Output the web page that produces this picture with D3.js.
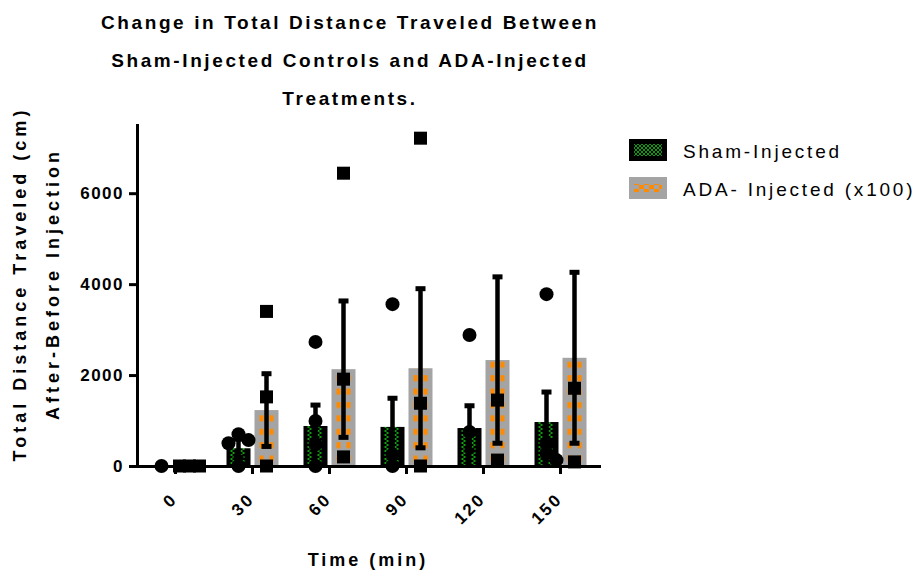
<!DOCTYPE html>
<html>
<head>
<meta charset="utf-8">
<script src="https://cdn.jsdelivr.net/npm/d3@7"></script>
<style>
  body { margin: 0; background: #fff; }
  text { font-family: "Liberation Sans", Arial, sans-serif; fill: #000; }
</style>
</head>
<body>
<svg id="chart" width="920" height="574"></svg>
<script>
// values
const times = ["0", "30", "60", "90", "120", "150"];
const series = ["sham", "ada"];
const shamMean = [0, 390, 880, 860, 835, 967];
const shamSD = [0, 200, 460, 630, 490, 660];
const adaMean = [0, 1230, 2130, 2150, 2330, 2380];
const adaSD = [0, 800, 1500, 1750, 1830, 1880];
const shamPoints = [[0], [700, 570, 500, 0], [2730, 990, 480, 0], [3560, 250, 0], [2880, 750], [3780, 500, 280, 130]];
const adaPoints = [[0, 0, 0], [3400, 1520, 0], [6440, 1910, 200], [7210, 1380, 0], [1450, 130], [1710, 90]];
const yTicks = [0, 2000, 4000, 6000];
const titleLines = ["Change in Total Distance Traveled Between", "Sham-Injected Controls and ADA-Injected", "Treatments."];
const yTitleLines = ["Total Distance Traveled (cm)", "After-Before Injection"];
const xTitle = "Time (min)";
const legendLabels = ["Sham-Injected", "ADA- Injected (x100)"];

const GREEN = "#0f9a0f";
const ORANGE = "#ff8a00";
const GRAY = "#a4a4a4";

const svg = d3.select("#chart");

const x = d3.scaleBand().domain(times).range([137, 599]);
const xs = d3.scaleBand().domain(series).range([12.5, 64.5]).paddingInner(1 / 7);
const y = d3.scaleLinear().domain([0, 7500]).range([466, 125]);

// patterns
const defs = svg.append("defs");
const pSham = defs.append("pattern").attr("id", "shamFill")
    .attr("patternUnits", "userSpaceOnUse")
    .attr("x", 137).attr("y", 466)
    .attr("width", x.step()).attr("height", 4);
pSham.append("rect").attr("width", x.step()).attr("height", 4).attr("fill", "#000");
[[16.5, 0], [18.5, 2], [26.5, 0], [28.5, 2]].forEach(([px, py]) => {
    pSham.append("rect").attr("x", px).attr("y", py).attr("width", 2).attr("height", 2).attr("fill", GREEN);
});

const pAda = defs.append("pattern").attr("id", "adaFill")
    .attr("patternUnits", "userSpaceOnUse")
    .attr("x", 137).attr("y", 466)
    .attr("width", x.step()).attr("height", 13.4);
pAda.append("rect").attr("width", x.step()).attr("height", 13.4).attr("fill", GRAY);
[45.5, 55.5].forEach(px => {
    pAda.append("rect").attr("x", px).attr("y", 3).attr("width", 4).attr("height", 6).attr("fill", ORANGE);
});

const pCheck = defs.append("pattern").attr("id", "greenCheck")
    .attr("patternUnits", "userSpaceOnUse").attr("width", 4).attr("height", 4);
pCheck.append("rect").attr("width", 2).attr("height", 2).attr("fill", GREEN);
pCheck.append("rect").attr("x", 2).attr("y", 2).attr("width", 2).attr("height", 2).attr("fill", GREEN);

const pZig = defs.append("pattern").attr("id", "orangeZig")
    .attr("patternUnits", "userSpaceOnUse").attr("width", 10).attr("height", 8);
pZig.append("rect").attr("width", 5).attr("height", 4).attr("fill", ORANGE);
pZig.append("rect").attr("x", 5).attr("y", 4).attr("width", 5).attr("height", 4).attr("fill", ORANGE);

// title
svg.append("g").selectAll("text")
    .data(titleLines)
    .enter()
    .append("text")
    .attr("x", 350)
    .attr("y", (d, i) => 29 + i * 38)
    .attr("text-anchor", "middle")
    .attr("font-size", 19)
    .attr("font-weight", "bold")
    .attr("letter-spacing", 2.6)
    .text(d => d);

// bars
const groups = times.map((t, i) => ({
    t,
    sham: {mean: shamMean[i], sd: shamSD[i], pts: shamPoints[i]},
    ada: {mean: adaMean[i], sd: adaSD[i], pts: adaPoints[i]}
}));

const barData = [];
groups.forEach(g => {
    series.forEach(s => barData.push({t: g.t, s, ...g[s]}));
});

const cx = d => x(d.t) + xs(d.s) + xs.bandwidth() / 2;

svg.append("g").selectAll("rect.bar")
    .data(barData.filter(d => d.mean > 0))
    .enter()
    .append("rect")
    .attr("class", "bar")
    .attr("x", d => x(d.t) + xs(d.s))
    .attr("width", xs.bandwidth())
    .attr("y", d => y(d.mean))
    .attr("height", d => y(0) - y(d.mean))
    .attr("fill", d => d.s === "sham" ? "url(#shamFill)" : "url(#adaFill)");

// error bars
const err = svg.append("g").selectAll("g.err")
    .data(barData.filter(d => d.sd > 0))
    .enter()
    .append("g");
err.append("line")
    .attr("x1", cx).attr("x2", cx)
    .attr("y1", d => y(d.mean + d.sd))
    .attr("y2", d => y(Math.max(0, d.mean - d.sd)))
    .attr("stroke", "#000")
    .attr("stroke-width", 4.5);
err.append("rect")
    .attr("x", d => cx(d) - 5).attr("width", 10)
    .attr("y", d => y(d.mean + d.sd) - 2.5).attr("height", 5)
    .attr("fill", "#000");
err.append("rect")
    .attr("x", d => cx(d) - 5).attr("width", 10)
    .attr("y", d => y(Math.max(0, d.mean - d.sd)) - 2.5).attr("height", 5)
    .attr("fill", "#000");

// scatter points, spread sideways where they would overlap
function spread(values, size) {
    const placed = [];
    const offsets = [0, 10, -10, 20, -20];
    const minD = 0.7 * size;
    values.forEach(v => {
        const py = y(v);
        const off = offsets.find(o => placed.every(p => {
            const dx = p.dx - o, dy = p.py - py;
            return dx * dx + dy * dy >= minD * minD;
        }));
        placed.push({v, py, dx: off === undefined ? 0 : off});
    });
    return placed;
}

const pointData = [];
barData.forEach(d => {
    spread(d.pts, 14).forEach(p => pointData.push({s: d.s, x: cx(d) + p.dx, y: p.py}));
});

const pts = svg.append("g");
pts.selectAll("circle")
    .data(pointData.filter(d => d.s === "sham"))
    .enter()
    .append("circle")
    .attr("cx", d => d.x).attr("cy", d => d.y).attr("r", 7)
    .attr("fill", "#000");
pts.selectAll("rect")
    .data(pointData.filter(d => d.s === "ada"))
    .enter()
    .append("rect")
    .attr("x", d => d.x - 6.5).attr("y", d => d.y - 6.5)
    .attr("width", 13).attr("height", 13)
    .attr("fill", "#000");

// axes
const yAxis = svg.append("g")
    .attr("transform", "translate(137,0)")
    .call(d3.axisLeft(y).tickValues(yTicks).tickFormat(d3.format("d"))
        .tickSize(8).tickSizeOuter(0).tickPadding(5));
const xAxis = svg.append("g")
    .attr("transform", "translate(0,466)")
    .call(d3.axisBottom(x).tickSize(8).tickSizeOuter(0));

[yAxis, xAxis].forEach(a => {
    a.select(".domain").attr("stroke", "#000").attr("stroke-width", 3).attr("stroke-linecap", "square");
    a.selectAll(".tick line").attr("stroke", "#000").attr("stroke-width", 3);
    a.selectAll(".tick text")
        .attr("font-size", 17)
        .attr("font-weight", "bold")
        .attr("letter-spacing", 1.5)
        .attr("font-family", "Liberation Sans, Arial, sans-serif");
});

xAxis.selectAll(".tick text")
    .attr("text-anchor", "end")
    .attr("dy", null)
    .attr("y", 0)
    .attr("transform", "translate(3,34) rotate(-45)")
    .attr("letter-spacing", 2.5);

// axis titles
svg.append("g").selectAll("text")
    .data(yTitleLines)
    .enter()
    .append("text")
    .attr("transform", (d, i) => `translate(${26 + i * 33},284) rotate(-90)`)
    .attr("text-anchor", "middle")
    .attr("font-size", 18)
    .attr("font-weight", "bold")
    .attr("letter-spacing", 4)
    .text(d => d);

svg.append("text")
    .attr("x", 368)
    .attr("y", 566)
    .attr("text-anchor", "middle")
    .attr("font-size", 18)
    .attr("font-weight", "bold")
    .attr("letter-spacing", 3)
    .text(xTitle);

// legend
const legend = svg.append("g").attr("transform", "translate(629,139)");
const item = legend.selectAll("g")
    .data(legendLabels)
    .enter()
    .append("g")
    .attr("transform", (d, i) => `translate(0,${i * 38})`);
item.append("rect")
    .attr("width", 38).attr("height", 22)
    .attr("fill", (d, i) => i === 0 ? "#000" : GRAY);
item.append("rect")
    .attr("x", 5).attr("width", 28)
    .attr("y", (d, i) => i === 0 ? 5 : 7)
    .attr("height", (d, i) => i === 0 ? 12 : 8)
    .attr("fill", (d, i) => i === 0 ? "url(#greenCheck)" : "url(#orangeZig)");
item.append("text")
    .attr("x", 54)
    .attr("y", 19)
    .attr("font-size", 19)
    .attr("letter-spacing", 2.8)
    .text(d => d);
</script>
</body>
</html>
